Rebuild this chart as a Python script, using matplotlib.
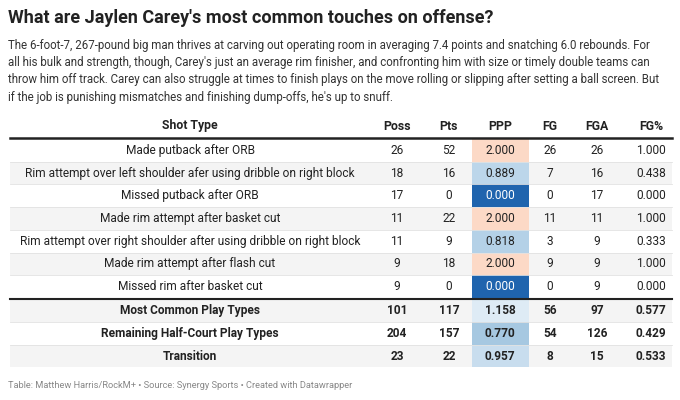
import matplotlib
matplotlib.use('Agg')
import matplotlib.pyplot as plt
from matplotlib.patches import Rectangle

# ── Style ─────────────────────────────────────────────────────────────
plt.rcParams['font.family'] = ['Roboto', 'DejaVu Sans']

# ── Table data ────────────────────────────────────────────────────────
rows = [
    ('Made putback after ORB', 26, 52, 2.000, 26, 26, 1.000),
    ('Rim attempt over left shoulder afer using dribble on right block', 18, 16, 0.889, 7, 16, 0.438),
    ('Missed putback after ORB', 17, 0, 0.000, 0, 17, 0.000),
    ('Made rim attempt after basket cut', 11, 22, 2.000, 11, 11, 1.000),
    ('Rim attempt over right shoulder after using dribble on right block', 11, 9, 0.818, 3, 9, 0.333),
    ('Made rim attempt after flash cut', 9, 18, 2.000, 9, 9, 1.000),
    ('Missed rim after basket cut', 9, 0, 0.000, 0, 9, 0.000),
    ('Most Common Play Types', 101, 117, 1.158, 56, 97, 0.577),
    ('Remaining Half-Court Play Types', 204, 157, 0.770, 54, 126, 0.429),
    ('Transition', 23, 22, 0.957, 8, 15, 0.533),
]
ppp_colors = {2.000: '#fcd9c6', 0.889: '#bcd6ea', 0.000: '#1f64ae', 0.818: '#b4d1e7',
              1.158: '#deebf5', 0.770: '#a6c8e1', 0.957: '#c8ddee'}

fig = plt.figure(figsize=(6.8, 4), dpi=100)
ax = fig.add_axes([0, 0, 1, 1])
ax.set_xlim(0, 680)
ax.set_ylim(400, 0)
ax.axis('off')

# ── Title and description ─────────────────────────────────────────────
ax.text(8, 18, "What are Jaylen Carey's most common touches on offense?",
        fontsize=13, fontweight='bold', color='#222222', va='center')
desc = ("The 6-foot-7, 267-pound big man thrives at carving out operating room in averaging 7.4 points and snatching 6.0 rebounds. For\n"
        "all his bulk and strength, though, Carey's just an average rim finisher, and confronting him with size or timely double teams can\n"
        "throw him off track. Carey can also struggle at times to finish plays on the move rolling or slipping after setting a ball screen. But\n"
        "if the job is punishing mismatches and finishing dump-offs, he's up to snuff.")
ax.text(8, 39, desc, fontsize=8.3, color='#333333', va='top', linespacing=1.42)

# ── Header ────────────────────────────────────────────────────────────
col_x = [190, 397, 449, 500, 550, 597, 651]
headers = ['Shot Type', 'Poss', 'Pts', 'PPP', 'FG', 'FGA', 'FG%']
for x, h in zip(col_x, headers):
    ax.text(x, 126, h, fontsize=8.8, fontweight='bold', ha='center', va='center', color='#222222')
ax.plot([10, 672], [138, 138], color='#222222', lw=1.8)

# ── Body rows ─────────────────────────────────────────────────────────
top = 139
h = 22.7
for i, r in enumerate(rows):
    y0 = top + i * h + (1.5 if i >= 7 else 0)
    yc = y0 + h / 2
    if i % 2 == 1:
        ax.add_patch(Rectangle((10, y0), 662, h, color='#f4f4f4', lw=0))
    ax.add_patch(Rectangle((472, y0), 57, h, color=ppp_colors[r[3]], lw=0))
    bold = 'bold' if i >= 7 else 'normal'
    ax.text(col_x[0], yc, r[0], fontsize=8.6, ha='center', va='center', fontweight=bold, color='#222222')
    vals = [str(r[1]), str(r[2]), f'{r[3]:.3f}', str(r[4]), str(r[5]), f'{r[6]:.3f}']
    for j, v in enumerate(vals):
        c = 'white' if (j == 2 and r[3] == 0) else '#222222'
        ax.text(col_x[j + 1], yc, v, fontsize=8.6, ha='center', va='center', fontweight=bold, color=c)
    if i not in (6, 9):
        ax.plot([10, 672], [y0 + h, y0 + h], color='#e2e2e2', lw=0.6)
ax.plot([10, 672], [top + 7 * h + 0.7, top + 7 * h + 0.7], color='#222222', lw=1.5)

# ── Footer ────────────────────────────────────────────────────────────
ax.text(8, 385, 'Table: Matthew Harris/RockM+ • Source: Synergy Sports • Created with Datawrapper',
        fontsize=6.7, color='#888888', va='center')

plt.savefig('out.png', dpi=100)
plt.close()
